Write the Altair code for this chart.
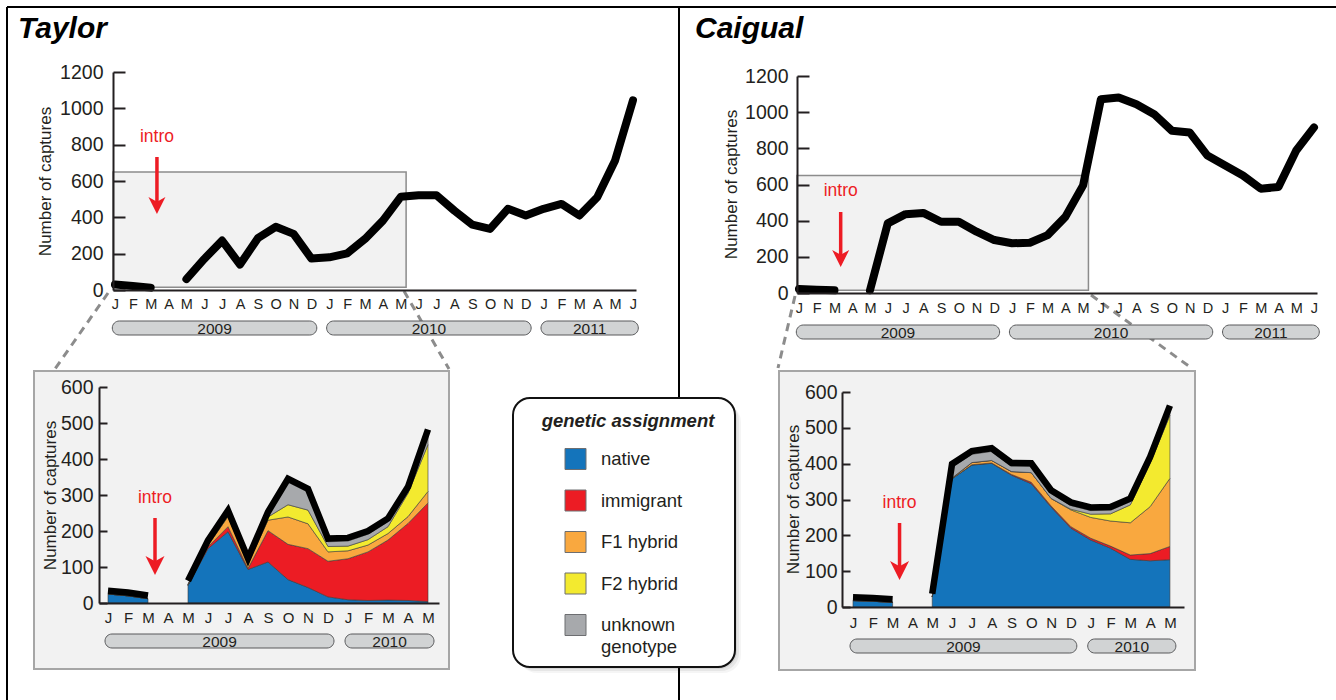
import altair as alt
import pandas as pd

# ---------------------------------------------------------------- data
MONTH_LETTERS = ["J", "F", "M", "A", "M", "J", "J", "A", "S", "O", "N", "D"]

# Monthly captures, Jan 2009 .. Jun 2011 (None = no sampling that month)
TAYLOR_TOTAL = [30, 22, 13, None, 60, 171, 272, 140, 285, 348, 309, 173, 180, 202,
                281, 382, 513, 522, 522, 437, 360, 336, 447, 410, 447, 474, 410,
                511, 713, 1044]
CAIGUAL_TOTAL = [22, 18, 15, None, 15, 385, 436, 443, 394, 394, 339, 293, 275, 278,
                 320, 421, 595, 1071, 1081, 1044, 989, 897, 888, 760, 705, 650, 577,
                 586, 788, 916]

CATEGORIES = ["native", "immigrant", "F1 hybrid", "F2 hybrid", "unknown genotype"]
CATEGORY_LABELS = ["native", "immigrant", "F1 hybrid", "F2 hybrid", "unknown\ngenotype"]
CATEGORY_COLORS = ["#1474bb", "#ec1c24", "#f9a83f", "#f3ea2f", "#a7a9ac"]

# Captures by genetic assignment, Jan 2009 .. May 2010
TAYLOR_NATIVE = [25, 20, 12, None, 49, 151, 198, 93, 114, 65, 43, 17, 9, 7, 8, 7, 4]
TAYLOR_IMMIGRANT = [0, 0, 0, None, 0, 5, 14, 3, 87, 98, 108, 99, 114, 135, 167, 214, 274]
TAYLOR_F1 = [0, 0, 0, None, 1, 4, 28, 14, 29, 76, 69, 26, 22, 19, 18, 19, 32]
TAYLOR_F2 = [0, 0, 0, None, 1, 2, 4, 2, 9, 34, 38, 15, 13, 15, 19, 65, 130]
TAYLOR_UNKNOWN = [0, 0, 0, None, 2, 3, 4, 3, 5, 63, 50, 13, 14, 15, 14, 9, 33]

CAIGUAL_NATIVE = [18, 16, 13, None, 28, 358, 396, 401, 368, 344, 279, 220, 187, 164, 133, 129, 132]
CAIGUAL_IMMIGRANT = [0, 0, 0, None, 0, 0, 1, 1, 2, 4, 3, 4, 5, 6, 12, 20, 37]
CAIGUAL_F1 = [0, 0, 0, None, 0, 2, 6, 7, 8, 27, 21, 47, 58, 70, 90, 131, 190]
CAIGUAL_F2 = [0, 0, 0, None, 0, 0, 0, 0, 0, 0, 0, 2, 9, 20, 50, 121, 176]
CAIGUAL_UNKNOWN = [0, 0, 0, None, 0, 30, 23, 25, 15, 17, 14, 10, 10, 10, 9, 9, 18]

TOP_YEARS = ["2009", "2010", "2011"]
TOP_YEAR_FIRST = [0, 12, 24]
TOP_YEAR_LAST = [11, 23, 29]
INSET_YEARS = ["2009", "2010"]
INSET_YEAR_FIRST = [0, 12]
INSET_YEAR_LAST = [11, 16]

TOP_TICKS = [0, 200, 400, 600, 800, 1000, 1200]
INSET_TICKS = [0, 100, 200, 300, 400, 500, 600]

INTRO_MONTH = 2.35          # introduction date (mid March 2009)
ZOOM_LAST_MONTH = 16        # zoomed window ends May 2010
ZOOM_FLOOR, ZOOM_TOP = 15, 650

PANELS = ["Taylor", "Caigual"]

# ---------------------------------------------------------------- style
W, H = 1336, 700
SANS = "Liberation Sans, Arial, Helvetica, sans-serif"
NARROW = "Liberation Sans Narrow, Arial Narrow, Liberation Sans, sans-serif"
INK = "#231f20"
RED = "#ed1c24"
PANEL_BG = "#f2f2f2"
ARROW_HEAD = "M-1,-1L0,-0.45L1,-1L0,1Z"

one = pd.DataFrame({"k": [0]})
month_expr = "[" + ",".join(f"'{c}'" for c in MONTH_LETTERS) + "][datum.value % 12]"
cat_scale = alt.Scale(domain=CATEGORIES, range=CATEGORY_COLORS)

TAYLOR_TOP = dict(xdom=[-0.11, 29.17], xrng=[113, 636], ydom=[0, 1200], yrng=[290, 72],
                  n_months=30, ticks=TOP_TICKS, month_fs=14.5, month_pad=7, label_pad=10,
                  title_x=45, title_y=181, tick_len=12, intro_y=137, arrow_top=157,
                  arrow_tip=214, head=17, pill_y=328)
CAIGUAL_TOP = dict(xdom=[-0.11, 29.17], xrng=[797, 1317], ydom=[0, 1200], yrng=[293, 76],
                   n_months=30, ticks=TOP_TICKS, month_fs=14.5, month_pad=8, label_pad=9,
                   title_x=731, title_y=184, tick_len=12, intro_y=191, arrow_top=212,
                   arrow_tip=267, head=17, pill_y=332)
TAYLOR_INSET = dict(xdom=[-0.45, 16.55], xrng=[99, 439], ydom=[0, 600], yrng=[603, 387],
                    n_months=17, ticks=INSET_TICKS, month_fs=15, month_pad=7, label_pad=6,
                    title_x=50, title_y=495, tick_len=8, intro_y=498, arrow_top=518,
                    arrow_tip=575, head=19, pill_y=641, box=(34, 371, 449, 669))
CAIGUAL_INSET = dict(xdom=[-0.555, 16.71], xrng=[842, 1184], ydom=[0, 600], yrng=[607, 392],
                     n_months=17, ticks=INSET_TICKS, month_fs=15, month_pad=8, label_pad=5,
                     title_x=793, title_y=499, tick_len=8, intro_y=503, arrow_top=523,
                     arrow_tip=580, head=19, pill_y=646, box=(779, 371, 1195, 670))


# ---------------------------------------------------------------- helpers
def segments(values):
    seg, out = 0, []
    for v in values:
        if v is None:
            seg += 1
            out.append(None)
        else:
            out.append(seg)
    return out


def xs(g, field="m", axis=None):
    return alt.X(f"{field}:Q", axis=axis,
                 scale=alt.Scale(domain=g["xdom"], range=g["xrng"], nice=False, zero=False))


def ys(g, field, axis=None):
    return alt.Y(f"{field}:Q", axis=axis,
                 scale=alt.Scale(domain=g["ydom"], range=g["yrng"], nice=False, zero=False))


def month_axis(g):
    return alt.Axis(orient="bottom", offset=g["yrng"][0] - H, values=list(range(g["n_months"])),
                    labelExpr=month_expr, ticks=False, domain=True, domainColor=INK,
                    domainWidth=2, grid=False, labelFont=NARROW, labelFontSize=g["month_fs"],
                    labelColor=INK, labelPadding=g["month_pad"], labelFlush=False,
                    labelOverlap=False, title="", zindex=1)


def value_axis(g):
    return alt.Axis(orient="left", offset=-g["xrng"][0], values=g["ticks"], format="d",
                    ticks=False, domain=True, domainColor=INK, domainWidth=2, grid=False,
                    labelFont=SANS, labelFontSize=19.5, labelColor=INK,
                    labelPadding=g["label_pad"], labelFlush=False, labelOverlap=False,
                    title="Number of captures", titleFont=SANS, titleFontSize=17,
                    titleFontWeight="normal", titleColor=INK,
                    titleX=g["title_x"] - g["xrng"][0], titleY=g["title_y"], titleAngle=270,
                    titleAlign="center", titleBaseline="middle", zindex=1)


def tick_axis(g):
    # inward-pointing ticks sit on the right side of the value axis line
    return alt.Axis(orient="right", offset=g["xrng"][0] - W, values=g["ticks"], ticks=True,
                    tickSize=g["tick_len"], tickWidth=2, tickColor=INK, labels=False,
                    domain=False, grid=False, title="", zindex=1)


def intro_layers(g):
    df = pd.DataFrame({"m": [INTRO_MONTH], "label": ["intro"]})
    text = alt.Chart(df).mark_text(font=SANS, fontSize=17.5, color=RED, align="center",
                                   baseline="middle").encode(
        x=xs(g), y=alt.value(g["intro_y"]), text="label:N")
    shaft = alt.Chart(df).mark_rule(color=RED, strokeWidth=3.5).encode(
        x=xs(g), y=alt.value(g["arrow_top"]), y2=alt.value(g["arrow_tip"] - 12))
    head = alt.Chart(df).mark_point(shape=ARROW_HEAD, filled=True, size=g["head"] ** 2,
                                    color=RED, opacity=1, strokeWidth=0).encode(
        x=xs(g), y=alt.value(g["arrow_tip"] - g["head"] / 2))
    return [shaft, head, text]


def year_layers(g, years, first, last):
    df = pd.DataFrame({"year": years,
                       "p0": [f - 0.15 for f in first],
                       "p1": [l + 0.3 for l in last]})
    df["pc"] = (df["p0"] + df["p1"]) / 2
    pill = alt.Chart(df).mark_rect(cornerRadius=7, fill="#d1d3d4", stroke="#58595b",
                                   strokeWidth=1).encode(
        x=xs(g, "p0"), x2="p1", y=alt.value(g["pill_y"] - 7), y2=alt.value(g["pill_y"] + 7))
    label = alt.Chart(df).mark_text(font=SANS, fontSize=15.5, color=INK, align="center",
                                    baseline="middle").encode(
        x=xs(g, "pc"), y=alt.value(g["pill_y"] + 0.5), text="year:N")
    return [pill, label]


def top_panel(g, totals):
    segs = segments(totals)
    df = pd.DataFrame([{"m": i, "v": v, "seg": s}
                       for i, (v, s) in enumerate(zip(totals, segs)) if v is not None])
    box_df = pd.DataFrame({"m0": [g["xdom"][0]], "m1": [ZOOM_LAST_MONTH + 0.3],
                           "v0": [ZOOM_FLOOR], "v1": [ZOOM_TOP]})
    box = alt.Chart(box_df).mark_rect(fill=PANEL_BG, stroke="#8c8c8c", strokeWidth=1.5).encode(
        x=xs(g, "m0"), x2="m1", y=ys(g, "v0", axis=tick_axis(g)), y2="v1")
    line = alt.Chart(df).mark_line(color="black", strokeWidth=8, strokeCap="round",
                                   strokeJoin="round").encode(
        x=xs(g, axis=month_axis(g)), y=ys(g, "v", axis=value_axis(g)), detail="seg:N")
    return [box] + intro_layers(g) + [line] + year_layers(g, TOP_YEARS, TOP_YEAR_FIRST, TOP_YEAR_LAST)


def inset_panel(g, parts):
    segs = segments(parts[0])
    rows = []
    for k, (cat, vals) in enumerate(zip(CATEGORIES, parts)):
        for i, (v, s) in enumerate(zip(vals, segs)):
            if v is not None:
                rows.append({"m": i, "cat": cat, "k": k, "n": v, "seg": s})
    df = pd.DataFrame(rows)
    x0, y0, x1, y1 = g["box"]
    bg = alt.Chart(one).mark_rect(fill=PANEL_BG, stroke="#a6a6a6", strokeWidth=2).encode(
        x=alt.value(x0), x2=alt.value(x1), y=alt.value(y0), y2=alt.value(y1))
    areas = alt.Chart(df).transform_stack(
        stack="n", as_=["lo", "hi"], groupby=["m"], sort=[alt.SortField("k", order="ascending")]
    ).mark_area(opacity=1, stroke="#3a3a3a", strokeWidth=0.6).encode(
        x=xs(g, axis=month_axis(g)), y=ys(g, "hi", axis=value_axis(g)), y2="lo",
        color=alt.Color("cat:N", scale=cat_scale), detail="seg:N", order=alt.Order("k:Q"))
    outline = alt.Chart(df).transform_aggregate(
        total="sum(n)", groupby=["m", "seg"]
    ).mark_line(color="black", strokeWidth=6.5, yOffset=-3.2).encode(
        x=xs(g), y=ys(g, "total", axis=tick_axis(g)), detail="seg:N")
    return [bg, areas, outline] + intro_layers(g) + year_layers(g, INSET_YEARS, INSET_YEAR_FIRST, INSET_YEAR_LAST)


def px_rule(x, y, x2, y2, **kw):
    return alt.Chart(one).mark_rule(**kw).encode(
        x=alt.value(x), y=alt.value(y), x2=alt.value(x2), y2=alt.value(y2))


# ---------------------------------------------------------------- frame
frame = [
    px_rule(7, 7, W, 7, color="black", strokeWidth=2),
    px_rule(7, 7, 7, H, color="black", strokeWidth=2),
    px_rule(679, 7, 679, H, color="black", strokeWidth=2),
]
dash = dict(color="#8c8c8c", strokeWidth=3, strokeDash=[8, 6])
connectors = [
    px_rule(108, 293, 55, 369, **dash),
    px_rule(404, 291, 449, 369, **dash),
    px_rule(795, 296, 778, 368, **dash),
    px_rule(1091, 295, 1190, 367, **dash),
]

titles_df = pd.DataFrame({"panel": PANELS})
panel_titles = [
    alt.Chart(titles_df.iloc[[i]]).mark_text(font=SANS, fontSize=30, fontWeight="bold",
                                             fontStyle="italic", color="black", align="left",
                                             baseline="alphabetic").encode(
        x=alt.value(px), y=alt.value(38), text="panel:N")
    for i, px in enumerate([18, 695])
]

# ---------------------------------------------------------------- legend
legend_df = pd.DataFrame({"cat": CATEGORIES, "label": CATEGORY_LABELS,
                          "row": list(range(len(CATEGORIES)))})
row_y = alt.Y("row:Q", axis=None,
              scale=alt.Scale(domain=[0, len(CATEGORIES) - 1], range=[459, 625], nice=False, zero=False))
legend = [
    alt.Chart(one).mark_rect(fill="black", opacity=op, cornerRadius=18).encode(
        x=alt.value(513 + d), x2=alt.value(735 + d), y=alt.value(398 + d), y2=alt.value(667 + d))
    for d, op in [(6, 0.04), (4, 0.06), (2, 0.08)]
] + [
    alt.Chart(one).mark_rect(fill="white", stroke="#111111", strokeWidth=2, cornerRadius=17).encode(
        x=alt.value(513), x2=alt.value(735), y=alt.value(398), y2=alt.value(667)),
    alt.Chart(pd.DataFrame({"t": ["genetic assignment"]})).mark_text(
        font=SANS, fontSize=18.5, fontWeight="bold", fontStyle="italic", color=INK,
        align="center", baseline="alphabetic").encode(
        x=alt.value(628), y=alt.value(427), text="t:N"),
    alt.Chart(legend_df).mark_square(size=441, filled=True, opacity=1, stroke="#6d6e71",
                                     strokeWidth=1).encode(
        x=alt.value(575.5), y=row_y, color=alt.Color("cat:N", scale=cat_scale)),
    alt.Chart(legend_df).mark_text(font=SANS, fontSize=18.5, color=INK, align="left",
                                   baseline="middle", lineBreak="\n", lineHeight=22).encode(
        x=alt.value(601), y=row_y, text="label:N"),
]

layers = (
    frame
    + connectors
    + top_panel(TAYLOR_TOP, TAYLOR_TOTAL)
    + top_panel(CAIGUAL_TOP, CAIGUAL_TOTAL)
    + inset_panel(TAYLOR_INSET, [TAYLOR_NATIVE, TAYLOR_IMMIGRANT, TAYLOR_F1, TAYLOR_F2, TAYLOR_UNKNOWN])
    + inset_panel(CAIGUAL_INSET, [CAIGUAL_NATIVE, CAIGUAL_IMMIGRANT, CAIGUAL_F1, CAIGUAL_F2, CAIGUAL_UNKNOWN])
    + legend
    + panel_titles
)

chart = alt.layer(*layers).resolve_scale(
    x="independent", y="independent"
).properties(
    width=W, height=H, padding=0, background="white",
    autosize=alt.AutoSizeParams(type="none"),
).configure_view(strokeWidth=0).configure_legend(disable=True)

chart.save("out.html", embed_options={"renderer": "svg", "actions": False})
